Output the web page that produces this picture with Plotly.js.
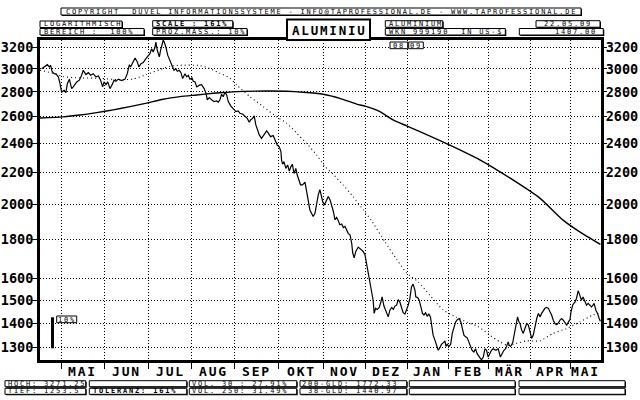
<!DOCTYPE html>
<html><head><meta charset="utf-8">
<script src="https://cdn.plot.ly/plotly-3.0.1.min.js"></script>
<style>
html,body{margin:0;padding:0;background:#fff;}
#chart{width:640px;height:400px;}
.annotation-text{letter-spacing:1.8px;}
</style></head><body><div id="chart"></div>
<script>
// ---- values (x = trading day index since start of chart) ----
const hoch = 3271.25, tief = 1253.5, gld200 = 1772.33, gld38 = 1440.97, lastClose = 1407.00;
const yTicks = [1300,1400,1500,1600,1800,2000,2200,2400,2600,2800,3000,3200];
const monthBounds = [10.5,31.5,53,74.5,95.5,117,139,159.5,180,200,220,240.5,260];
const monthLabels = ["MAI","JUN","JUL","AUG","SEP","OKT","NOV","DEZ","JAN","FEB","MÄR","APR","MAI"];
const lastDay = 275;

const priceDay = [0.8,2.5,3.6,4.6,5.2,5.9,6.9,7.8,9.0,9.8,10.6,11.8,12.7,13.4,14.4,15.5,16.3,18.0,19.3,20.4,
21.2,22.5,23.7,24.8,26.1,27.4,28.6,29.7,30.7,31.4,32.3,33.2,34.3,35.6,36.3,37.2,38.4,40.0,41.7,42.8,
43.8,44.4,45.7,46.6,47.7,48.5,49.5,50.6,51.9,53.1,53.9,54.7,55.5,56.4,56.8,57.5,58.5,59.1,59.9,60.4,
60.9,61.7,62.6,63.4,64.2,65.0,65.7,66.6,67.3,68.3,69.1,69.9,71.1,71.9,72.7,73.5,74.5,75.1,76.0,76.8,78.1,79.2,
80.4,81.4,82.0,83.0,84.1,85.3,86.6,87.4,88.2,89.0,89.8,90.7,91.5,92.3,93.4,94.7,96.0,97.2,98.0,99.4,
100.5,101.6,102.6,103.2,104.2,105.0,105.8,106.5,107.5,108.6,109.8,111.1,111.9,113.0,114.3,115.6,116.3,117.3,118.1,118.4,
118.9,119.6,120.5,121.4,122.2,123.0,123.7,124.5,125.4,126.1,127.0,127.7,128.7,129.9,130.7,131.5,132.3,133.1,133.9,134.8,
135.6,136.4,137.2,137.7,138.6,139.4,140.2,141.3,142.2,143.0,143.8,144.6,145.4,146.2,147.0,147.9,148.7,149.5,150.3,151.1,
152.0,152.8,153.3,154.0,154.8,156.0,157.2,158.4,159.3,160.1,160.9,161.7,162.5,163.3,163.8,164.5,165.3,166.3,167.1,167.7,
168.6,169.5,170.7,171.5,172.4,173.2,174.0,174.8,175.6,176.4,177.2,178.0,178.9,179.7,180.5,181.3,182.1,182.9,183.8,184.2,
185.1,185.9,186.7,187.5,188.2,189.0,189.8,190.6,191.4,191.9,192.7,193.6,194.4,195.2,196.0,196.8,197.6,198.5,199.0,199.6,
200.4,201.3,202.1,202.9,203.7,204.7,205.5,206.3,207.1,207.8,208.6,209.4,210.2,211.0,211.8,212.7,213.5,214.3,215.1,
215.6,216.4,217.3,218.1,218.9,219.7,220.5,221.3,222.1,223.5,224.6,225.7,226.5,227.4,228.3,229.0,229.5,230.0,230.7,231.7,
232.3,232.8,233.6,234.1,234.8,235.3,236.1,236.9,237.7,238.6,239.4,240.2,241.0,241.8,242.6,243.5,244.3,245.1,245.9,246.7,
247.5,248.4,249.2,250.0,250.8,251.6,252.4,253.3,254.1,254.9,255.7,256.5,257.4,258.2,259.0,259.8,260.3,261.1,261.7,262.3,
263.0,263.8,264.6,265.4,266.2,267.1,267.9,268.7,269.5,270.3,271.1,271.6,272.5,273.3,274.1,274.7];
const priceVal = [3001,3026,3038,3017,3033,2978,2957,2955,2929,2870,2798,2813,2793,2870,2909,2827,2842,2885,2900,2943,
2987,2949,2966,2943,2957,2929,2937,2900,2842,2885,2862,2885,2827,2870,2900,2891,2909,2896,2909,2957,
3038,3017,3063,3100,3063,3017,3047,3057,3094,3119,3140,3187,3156,3203,3251,3172,3110,3172,3251,3269,
3251,3203,3126,3094,3057,3017,2987,3001,2978,2987,2966,2914,2957,2929,2943,2909,2920,2891,2885,2842,2857,2862,
2830,2788,2734,2752,2734,2720,2725,2715,2734,2780,2760,2796,2774,2720,2687,2661,2639,2645,2626,2618,
2598,2586,2556,2574,2586,2606,2536,2498,2461,2436,2466,2491,2474,2448,2456,2416,2387,2375,2341,2284,
2254,2272,2226,2249,2208,2238,2254,2192,2226,2182,2150,2119,2119,2136,2077,2025,1965,1946,1927,1946,
2004,2056,2088,2056,2014,1994,2014,2046,2025,1994,1956,1908,1921,1903,1880,1884,1864,1870,1851,1832,
1823,1778,1727,1702,1735,1758,1747,1735,1718,1675,1625,1584,1545,1499,1441,1463,1458,1467,1491,1514,
1473,1455,1426,1455,1467,1458,1473,1477,1502,1491,1467,1444,1438,1455,1477,1506,1560,1573,1545,1514,
1511,1499,1463,1441,1434,1444,1429,1438,1426,1395,1350,1330,1305,1290,1300,1313,1319,1327,1305,1313,
1305,1313,1357,1387,1404,1415,1419,1404,1377,1350,1343,1340,1323,1305,1290,1283,1296,1277,1264,
1262,1254,1264,1296,1290,1264,1277,1290,1296,1290,1296,1264,1277,1290,1296,1309,1323,1309,1305,1319,
1343,1377,1404,1426,1404,1398,1371,1357,1377,1398,1391,1364,1337,1350,1391,1419,1441,1426,1441,1455,
1463,1467,1463,1448,1434,1412,1398,1393,1400,1412,1419,1412,1398,1391,1404,1415,1448,1477,1485,1491,
1508,1542,1522,1499,1514,1491,1477,1485,1477,1469,1477,1485,1455,1441,1419,1407];

const ma38Day = [0,6.5,11.4,19.6,29.4,39.2,45.7,52.3,58.8,63.7,68.6,78.4,83.3,88.2,93.1,96.4,102.9,109.4,116.0,120.9,
125.8,130.7,135.6,139.7,143.8,148.6,153.5,158.4,162.5,169.1,174.8,179.7,185.4,191.1,197.6,204.2,209.1,214.8,220.5,225.4,
229.3,233.6,238.5,245.0,251.5,258.1,264.6,271.1,274.7];
const ma38Val = [2987,2961,2931,2920,2916,2903,2911,2950,2994,3023,3033,3030,3003,2961,2918,2859,2760,2679,2598,2549,
2474,2399,2318,2237,2186,2118,2045,1966,1903,1786,1695,1627,1584,1522,1456,1424,1404,1385,1350,1323,
1309,1317,1327,1327,1357,1377,1404,1434,1441];

const ma200Day = [0,11.4,19.6,27.8,35.9,44.1,52.3,60.4,68.6,76.8,84.9,91.5,99.6,111.1,120.9,129.0,138.8,147.0,155.2,160.1,
166.6,173.1,179.7,186.2,200.9,215.6,230.3,245.0,256.4,264.6,274.7];
const ma200Val = [2589,2598,2612,2631,2653,2679,2707,2739,2760,2774,2788,2796,2804,2807,2805,2797,2780,2746,2699,2679,
2639,2574,2529,2486,2387,2284,2163,2036,1906,1840,1772];

// ---- layout helpers (pixel -> paper) ----
const L = 40, T = 40, W = 561, H = 320;
const px = x => (x - L) / W;
const py = y => (T + H - y) / H;
const MONO = 'DejaVu Sans Mono';
const shapes = [], annotations = [];

function box(x0, y0, x1, y1, lw, noShadow) {
  if (!noShadow) shapes.push({type:'rect', xref:'paper', yref:'paper', x0:px(x0+1), x1:px(x1+1), y0:py(y0+1), y1:py(y1+1),
    fillcolor:'#000', line:{width:0}});
  shapes.push({type:'rect', xref:'paper', yref:'paper', x0:px(x0), x1:px(x1), y0:py(y0), y1:py(y1),
    fillcolor:'#fff', line:{color:'#000', width:lw || 1}});
}
function txt(s, x, y, anchor, bold, size) {
  annotations.push({text:s, xref:'paper', yref:'paper', x:px(x), y:py(y), xanchor:anchor || 'left', yanchor:'middle',
    showarrow:false, borderpad:0, font:{family:MONO, size:size || 7, color:'#000', weight: bold ? 'bold' : 'normal'}});
}
const sp = n => '\u00a0'.repeat(n);

// header
box(61, 8, 581, 15);
txt('COPYRIGHT' + sp(2) + 'DUVEL INFORMATIONSSYSTEME - INFO@TAPROFESSIONAL.DE - WWW.TAPROFESSIONAL.DE', 321, 11.8, 'center');
box(40, 21, 122, 27.5); txt('LOGARITHMISCH', 42.5, 24.4);
box(40, 28.5, 144, 35); txt('BEREICH :' + sp(2) + '100%', 42.5, 31.9);
box(152.7, 20.7, 232.7, 27.2); txt('SCALE : 161%', 155, 24.1, 'left', true);
box(152.7, 28.5, 247, 35); txt('PROZ.MASS.: 10%', 155, 31.9);
box(287, 19.5, 370, 40, 2, true); txt('ALUMINIU', 329, 30, 'center', true, 12.5);
box(385.3, 20.7, 442.7, 27.2); txt('ALUMINIUM', 387.5, 24.1);
box(385.3, 28.5, 505.3, 35); txt('WKN 999190' + sp(2) + 'IN US-$', 388, 31.9);
box(536, 20.7, 600, 27.2); txt('22.05.09', 568, 24.1, 'center');
box(519.3, 28.5, 603.3, 35); txt(lastClose.toFixed(2), 598, 31.9, 'right');

// year markers inside plot
box(390, 42, 407.7, 48.7, 1, true); txt('08', 399, 45.5, 'center');
box(408.7, 42, 423.3, 48.7, 1, true); txt('09', 416.2, 45.5, 'center');

// 10% scale bar
shapes.push({type:'rect', xref:'paper', yref:'paper', x0:px(51), x1:px(54), y0:py(317.3), y1:py(348.3), fillcolor:'#000', line:{width:0}});
box(56.7, 316, 76.7, 322.7, 1, true); txt('10%', 67, 319.5, 'center');

// footer
box(5, 380.7, 85.7, 386.7); txt('HOCH: ' + hoch.toFixed(2), 6.5, 383.8);
box(5, 388.3, 85.7, 394.3); txt('TIEF: ' + tief.toFixed(1), 6.5, 391.4);
box(89.3, 380.7, 186.7, 386.7);
box(89.3, 388.3, 186.7, 394.3); txt('TOLERANZ: 161%', 91.5, 391.4, 'left', true);
box(189.3, 380.7, 296.7, 386.7); txt('VOL. 30 : 27.91%', 191, 383.8);
box(189.3, 388.3, 296.7, 394.3); txt('VOL. 250: 31.49%', 191, 391.4);
box(300, 380.7, 406.7, 386.7); txt('200-GLD: ' + gld200.toFixed(2), 399, 383.8, 'right');
box(300, 388.3, 406.7, 394.3); txt('38-GLD: ' + gld38.toFixed(2), 399, 391.4, 'right');
box(409.3, 380.7, 515, 386.7); box(409.3, 388.3, 515, 394.3);
box(519, 380.7, 625, 386.7); box(519, 388.3, 625, 394.3);

// month labels centred between month boundaries
const bounds = monthBounds.concat([lastDay]);
monthLabels.forEach((m, i) => {
  annotations.push({text:m, xref:'x', yref:'paper', x:(bounds[i] + bounds[i+1]) / 2, y:py(371.5),
    xanchor:'center', yanchor:'middle', showarrow:false, borderpad:0,
    font:{family:MONO, size:13, color:'#000', weight:'bold'}});
});

const yRange = [Math.log10(tief - 0.5), Math.log10(hoch)];
const yAxisBase = {
  type:'log', range:yRange, tickmode:'array', tickvals:yTicks, ticktext:yTicks.map(String),
  ticks:'outside', ticklen:5, tickwidth:1, tickcolor:'#000', ticklabelstandoff:-4,
  tickfont:{family:MONO, size:13.5, color:'#000', weight:'bold'},
  zeroline:false, automargin:false, fixedrange:true
};

const traces = [
  {x:ma200Day, y:ma200Val, mode:'lines', line:{color:'#000', width:1.4, shape:'spline', smoothing:0.6},
   hoverinfo:'skip', showlegend:false, yaxis:'y2'},
  {x:ma38Day, y:ma38Val, mode:'lines', line:{color:'#000', width:1.1, dash:'1px,3px', shape:'spline', smoothing:0.6},
   hoverinfo:'skip', showlegend:false},
  {x:priceDay, y:priceVal, mode:'lines', line:{color:'#000', width:1.2},
   hoverinfo:'skip', showlegend:false}
];

const layout = {
  width:640, height:400,
  margin:{l:40, r:39, t:40, b:40, pad:0},
  paper_bgcolor:'#fff', plot_bgcolor:'#fff',
  showlegend:false,
  xaxis:{
    type:'linear', range:[0, lastDay], tickmode:'array', tickvals:monthBounds,
    showticklabels:false, ticks:'outside', ticklen:6, tickwidth:1, tickcolor:'#000',
    showgrid:true, gridcolor:'#000', gridwidth:1, griddash:'1px,2px',
    showline:true, linecolor:'#000', linewidth:3, mirror:true, zeroline:false, automargin:false, fixedrange:true
  },
  yaxis:Object.assign({}, yAxisBase, {
    side:'left', showgrid:true, gridcolor:'#000', gridwidth:1, griddash:'1px,2px',
    showline:true, linecolor:'#000', linewidth:3, mirror:true
  }),
  yaxis2:Object.assign({}, yAxisBase, {
    side:'right', overlaying:'y', anchor:'x', showgrid:false, showline:false
  }),
  shapes:shapes,
  annotations:annotations
};

Plotly.newPlot('chart', traces, layout, {staticPlot:true, displayModeBar:false});
</script></body></html>
